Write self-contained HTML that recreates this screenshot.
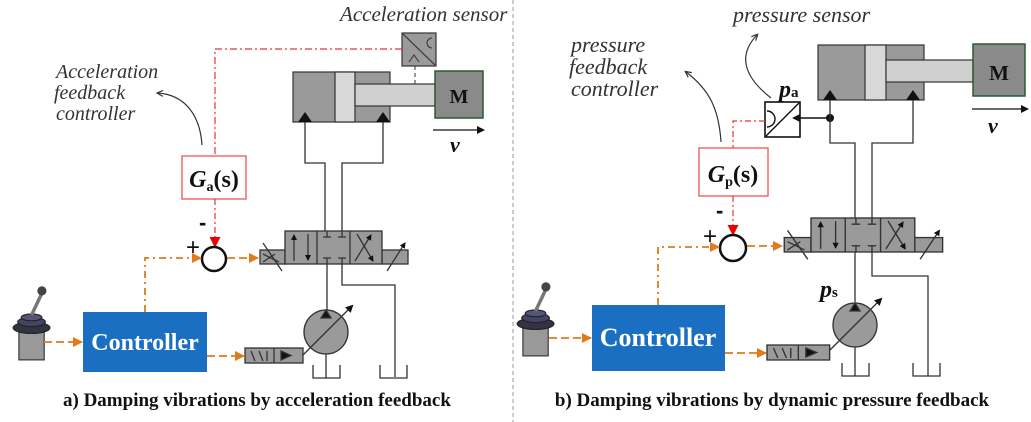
<!DOCTYPE html>
<html><head><meta charset="utf-8"><style>
html,body{margin:0;padding:0;background:#fff;}
svg{display:block;}
.it{font-family:"Liberation Serif",serif;font-style:italic;fill:#333;}
.bd{font-family:"Liberation Serif",serif;font-weight:bold;fill:#111;}
</style></head><body>
<svg width="1031" height="422" viewBox="0 0 1031 422" xmlns="http://www.w3.org/2000/svg">
<defs>
<marker id="ob" markerWidth="10" markerHeight="10" refX="9" refY="5" orient="auto" markerUnits="userSpaceOnUse"><path d="M0,0 L10,5 L0,10 z" fill="#e07a1a"/></marker>
<marker id="rd" markerWidth="11" markerHeight="11" refX="10" refY="5.5" orient="auto" markerUnits="userSpaceOnUse"><path d="M0,0 L11,5.5 L0,11 z" fill="#e00"/></marker>
<marker id="bk" markerWidth="8" markerHeight="8" refX="6" refY="4" orient="auto" markerUnits="userSpaceOnUse"><path d="M0,0 L8,4 L0,8 z" fill="#111"/></marker>
<marker id="sk" markerWidth="6" markerHeight="6" refX="5" refY="3" orient="auto" markerUnits="userSpaceOnUse"><path d="M0,0 L6,3 L0,6 z" fill="#111"/></marker>
<marker id="th" markerWidth="8" markerHeight="8" refX="6" refY="4" orient="auto" markerUnits="userSpaceOnUse"><path d="M1,1 L7,4 L1,7" fill="none" stroke="#333" stroke-width="1.2"/></marker>
<g id="valve" stroke="#333" stroke-width="1.3" fill="#9a9a9a">
<rect x="-25" y="19" width="25" height="14"/><rect x="97" y="19" width="26" height="14"/>
<rect x="0" y="0" width="97" height="33"/>
<line x1="32" y1="0" x2="32" y2="33"/><line x1="65" y1="0" x2="65" y2="33"/>
<line x1="9" y1="30" x2="9" y2="4" marker-end="url(#sk)"/><line x1="23" y1="3" x2="23" y2="29" marker-end="url(#sk)"/>
<path d="M42,0 V6 M38,6 H46 M57,0 V6 M53,6 H61 M42,33 V27 M38,27 H46 M57,33 V27 M53,27 H61" fill="none"/>
<line x1="70" y1="30" x2="86" y2="4" marker-end="url(#sk)"/><line x1="72" y1="3" x2="88" y2="30" marker-end="url(#sk)"/>
<path d="M-22,23 L-6,31 M-22,31 L-10,23" fill="none"/>
<line x1="-22" y1="12" x2="-3" y2="40"/>
<line x1="102" y1="40" x2="120" y2="12" marker-end="url(#sk)"/>
</g>
<g id="pump" stroke="#333" stroke-width="1.3">
<circle cx="0" cy="0" r="22" fill="#9a9a9a"/>
<path d="M-5,-14 L5,-14 L0,-22 z" fill="#111"/>
<line x1="-26" y1="26" x2="26" y2="-26" marker-end="url(#bk)"/>
</g>
<g id="sv" stroke="#333" stroke-width="1.3" fill="#9a9a9a">
<rect x="0" y="0" width="58" height="15"/><line x1="29" y1="0" x2="29" y2="15"/>
<path d="M6,3 L10,13 M14,3 L18,13 M22,3 L22,13" fill="none"/>
<path d="M36,3 L46,7.5 L36,12 z" fill="#111"/>
</g>
<g id="tank" fill="none" stroke="#333" stroke-width="1.3"><path d="M0,0 V13 H27 V0"/></g>
<g id="joy">
<rect x="6" y="42" width="22" height="24" fill="#999" stroke="#333"/>
<ellipse cx="17" cy="38" rx="16" ry="5" fill="#334" stroke="#222"/>
<ellipse cx="17" cy="33" rx="12" ry="4" fill="#446" stroke="#222"/>
<ellipse cx="17" cy="29" rx="9" ry="3" fill="#557" stroke="#222"/>
<line x1="17" y1="27" x2="26" y2="8" stroke="#777" stroke-width="3"/>
<circle cx="26" cy="6" r="4" fill="#444"/>
</g>
</defs>

<line x1="513" y1="0" x2="513" y2="422" stroke="#999" stroke-width="1" stroke-dasharray="4,3"/>

<!-- ===== LEFT ===== -->
<text x="340" y="21" class="it" font-size="21">Acceleration sensor</text>
<text x="56" y="78" class="it" font-size="20">Acceleration</text>
<text x="54" y="99" class="it" font-size="20">feedback</text>
<text x="56" y="120" class="it" font-size="20">controller</text>
<path d="M202,145 C200,115 185,95 158,93" fill="none" stroke="#333" stroke-width="1.2" marker-end="url(#th)"/>
<rect x="402" y="33" width="34" height="33" fill="#9a9a9a" stroke="#333" stroke-width="1.2"/>
<line x1="403" y1="34" x2="435" y2="65" stroke="#333" stroke-width="1.2"/>
<path d="M432,38 A5,5 0 0 0 432,48" fill="none" stroke="#333"/>
<path d="M409,62 L414,55 L419,62" fill="none" stroke="#333"/>
<line x1="415" y1="66" x2="415" y2="84" stroke="#333" stroke-dasharray="4,3"/>
<path d="M402,49 H215 V156" fill="none" stroke="#e33" stroke-width="1.2" stroke-dasharray="7,3,2,3"/>
<rect x="293" y="72" width="97" height="50" fill="#9a9a9a" stroke="#333" stroke-width="1.2"/>
<rect x="335" y="72" width="20" height="50" fill="#d8d8d8" stroke="#333" stroke-width="1.2"/>
<rect x="355" y="84" width="80" height="22" fill="#d0d0d0" stroke="#333" stroke-width="1.2"/>
<rect x="435" y="71" width="48" height="47" fill="#8a8a8a" stroke="#2d5a32" stroke-width="1.5"/>
<text x="459" y="103" class="bd" font-size="20" text-anchor="middle">M</text>
<path d="M298,122 L305,112 L312,122 z M376,122 L383,112 L390,122 z" fill="#111"/>
<line x1="433" y1="130" x2="483" y2="130" stroke="#111" stroke-width="1.3" marker-end="url(#bk)"/>
<text x="450" y="152" class="bd" font-style="italic" font-size="22">v</text>
<path d="M305,122 V163 H325 V231 M383,122 V163 H342 V231" fill="none" stroke="#333" stroke-width="1.3"/>
<use href="#valve" transform="translate(285,231)"/>
<path d="M327,264 V310 M342,264 V285 H395 V377" fill="none" stroke="#333" stroke-width="1.3"/>
<use href="#pump" transform="translate(326,332)"/>
<line x1="326" y1="354" x2="326" y2="378" stroke="#333" stroke-width="1.3"/>
<use href="#sv" transform="translate(245,348)"/>
<use href="#tank" transform="translate(313,365)"/>
<use href="#tank" transform="translate(380,365)"/>
<rect x="182" y="156" width="64" height="43" fill="#fff" stroke="#e55" stroke-width="1.3"/>
<text x="214" y="187" class="bd" font-size="24" text-anchor="middle"><tspan font-style="italic">G</tspan><tspan font-size="14" dy="4">a</tspan><tspan dy="-4">(s)</tspan></text>
<line x1="215" y1="199" x2="215" y2="247" stroke="#e33" stroke-width="1.2" stroke-dasharray="6,3,2,3" marker-end="url(#rd)"/>
<circle cx="214" cy="259" r="12" fill="#fff" stroke="#111" stroke-width="2.5"/>
<text x="186" y="255" font-family="Liberation Sans,sans-serif" font-size="24" fill="#111">+</text>
<text x="199" y="230" font-family="Liberation Sans,sans-serif" font-size="22" font-weight="bold" fill="#111">-</text>
<path d="M145,312 V258 H201" fill="none" stroke="#e07a1a" stroke-width="1.8" stroke-dasharray="7,4,2,4" marker-end="url(#ob)"/>
<line x1="227" y1="258" x2="258" y2="258" stroke="#e07a1a" stroke-width="1.8" stroke-dasharray="8,4" marker-end="url(#ob)"/>
<rect x="83" y="312" width="124" height="60" fill="#1b6fc2"/>
<text x="145" y="350" font-family="Liberation Serif,serif" font-weight="bold" font-size="24" fill="#fff" text-anchor="middle">Controller</text>
<use href="#joy" transform="translate(12,284) scale(1.15)"/>
<line x1="44" y1="342" x2="82" y2="342" stroke="#e07a1a" stroke-width="1.8" stroke-dasharray="8,4" marker-end="url(#ob)"/>
<line x1="207" y1="356" x2="244" y2="356" stroke="#e07a1a" stroke-width="1.8" stroke-dasharray="8,4" marker-end="url(#ob)"/>
<text x="63" y="406" class="bd" font-size="19">a) Damping vibrations by acceleration feedback</text>

<!-- ===== RIGHT ===== -->
<text x="733" y="22" class="it" font-size="22">pressure sensor</text>
<text x="571" y="52" class="it" font-size="22">pressure</text>
<text x="569" y="74" class="it" font-size="22">feedback</text>
<text x="571" y="96" class="it" font-size="22">controller</text>
<path d="M771,98 C748,80 735,58 757,35" fill="none" stroke="#333" stroke-width="1.2" marker-end="url(#th)"/>
<path d="M721,142 C719,110 710,90 686,72" fill="none" stroke="#333" stroke-width="1.2" marker-end="url(#th)"/>
<rect x="765" y="102" width="35" height="35" fill="#fff" stroke="#111" stroke-width="1.6"/>
<line x1="766" y1="136" x2="799" y2="103" stroke="#111" stroke-width="1.4"/>
<path d="M767,111 A8,8 0 0 1 767,127" fill="none" stroke="#111" stroke-width="1.4"/>
<path d="M800,114 L792,118 L800,122 z" fill="#111"/>
<line x1="800" y1="118" x2="830" y2="118" stroke="#111" stroke-width="1.6"/>
<circle cx="830" cy="118" r="4" fill="#111"/>
<text x="779" y="97" class="bd" font-size="24"><tspan font-style="italic">p</tspan><tspan font-size="15">a</tspan></text>
<path d="M765,121 H733 V148" fill="none" stroke="#e33" stroke-width="1.2" stroke-dasharray="6,3,2,3"/>
<rect x="818" y="45" width="106" height="55" fill="#9a9a9a" stroke="#333" stroke-width="1.2"/>
<rect x="865" y="45" width="21" height="55" fill="#d8d8d8" stroke="#333" stroke-width="1.2"/>
<rect x="886" y="60" width="87" height="22" fill="#d0d0d0" stroke="#333" stroke-width="1.2"/>
<rect x="973" y="44" width="52" height="52" fill="#8a8a8a" stroke="#2d5a32" stroke-width="1.5"/>
<text x="999" y="80" class="bd" font-size="21" text-anchor="middle">M</text>
<path d="M823,100 L830,90 L837,100 z M906,100 L913,90 L920,100 z" fill="#111"/>
<line x1="972" y1="109" x2="1027" y2="109" stroke="#111" stroke-width="1.3" marker-end="url(#bk)"/>
<text x="988" y="133" class="bd" font-style="italic" font-size="22">v</text>
<path d="M830,100 V143 H855 V219 M913,100 V143 H872 V219" fill="none" stroke="#333" stroke-width="1.3"/>
<use href="#valve" transform="translate(811,218) scale(1.07,1.03)"/>
<path d="M855,252 V302 M872,252 V276 H928 V376" fill="none" stroke="#333" stroke-width="1.3"/>
<use href="#pump" transform="translate(855,325)"/>
<line x1="855" y1="347" x2="855" y2="376" stroke="#333" stroke-width="1.3"/>
<use href="#sv" transform="translate(767,345) scale(1.08,1)"/>
<use href="#tank" transform="translate(842,363)"/>
<use href="#tank" transform="translate(913,363)"/>
<text x="820" y="297" class="bd" font-size="24"><tspan font-style="italic">p</tspan><tspan font-size="15">s</tspan></text>
<rect x="699" y="148" width="69" height="48" fill="#fff" stroke="#e55" stroke-width="1.3"/>
<text x="733" y="182" class="bd" font-size="24" text-anchor="middle"><tspan font-style="italic">G</tspan><tspan font-size="14" dy="4">p</tspan><tspan dy="-4">(s)</tspan></text>
<line x1="733" y1="196" x2="733" y2="235" stroke="#e33" stroke-width="1.2" stroke-dasharray="6,3,2,3" marker-end="url(#rd)"/>
<circle cx="733" cy="248" r="13" fill="#fff" stroke="#111" stroke-width="2.5"/>
<text x="703" y="244" font-family="Liberation Sans,sans-serif" font-size="24" fill="#111">+</text>
<text x="716" y="218" font-family="Liberation Sans,sans-serif" font-size="22" font-weight="bold" fill="#111">-</text>
<path d="M658,305 V247 H719" fill="none" stroke="#e07a1a" stroke-width="1.8" stroke-dasharray="7,4,2,4" marker-end="url(#ob)"/>
<line x1="747" y1="246" x2="782" y2="246" stroke="#e07a1a" stroke-width="1.8" stroke-dasharray="8,4" marker-end="url(#ob)"/>
<rect x="592" y="305" width="133" height="66" fill="#1b6fc2"/>
<text x="658" y="346" font-family="Liberation Serif,serif" font-weight="bold" font-size="26" fill="#fff" text-anchor="middle">Controller</text>
<use href="#joy" transform="translate(516,280) scale(1.15)"/>
<line x1="549" y1="338" x2="591" y2="338" stroke="#e07a1a" stroke-width="1.8" stroke-dasharray="8,4" marker-end="url(#ob)"/>
<line x1="725" y1="353" x2="766" y2="353" stroke="#e07a1a" stroke-width="1.8" stroke-dasharray="8,4" marker-end="url(#ob)"/>
<text x="772" y="406" class="bd" font-size="19" text-anchor="middle">b) Damping vibrations by dynamic pressure feedback</text>
</svg>
</body></html>
